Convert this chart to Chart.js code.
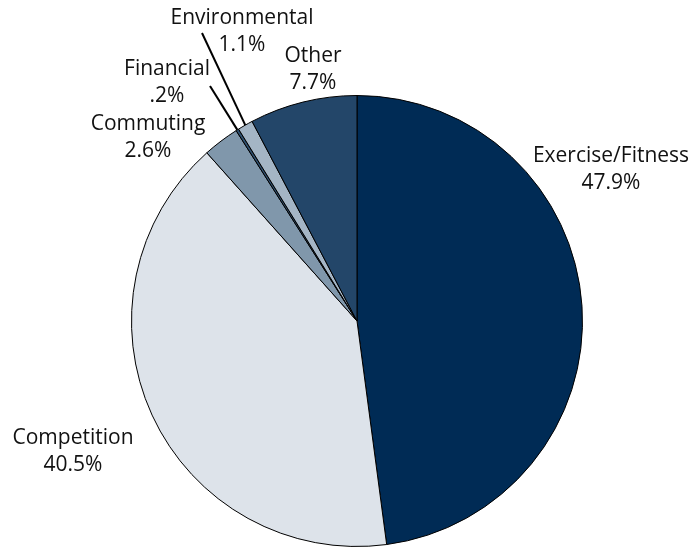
<!DOCTYPE html>
<html lang="en">
<head>
    <meta charset="UTF-8">
    <title>Reasons for participation</title>
    <style>
        body { margin: 0; padding: 0; background: #ffffff; }
        #wrap { width: 691px; height: 550px; }
    </style>
</head>
<body>
    <div id="wrap"><canvas id="myChart" width="691" height="550"></canvas></div>

    <script src="https://cdn.jsdelivr.net/npm/chart.js"></script>
    <script>
        // data
        const categories = ['Exercise/Fitness', 'Competition', 'Commuting', 'Financial', 'Environmental', 'Other'];
        const shares = [47.9, 40.5, 2.6, 0.2, 1.1, 7.7];
        const shareLabels = ['47.9%', '40.5%', '2.6%', '.2%', '1.1%', '7.7%'];
        const colors = ['#002b55', '#dde3ea', '#8097ab', '#2f5070', '#a4b5c5', '#234669'];

        // where each label sits (center of first line) and optional leader start
        const labelSpots = [
            { x: 611, y: 156 },
            { x: 73, y: 438 },
            { x: 148, y: 124 },
            { x: 167, y: 69, lead: [210, 86] },
            { x: 242, y: 18, lead: [202, 33] },
            { x: 313, y: 56 }
        ];

        const labelPlugin = {
            id: 'sliceLabels',
            afterDraw(chart) {
                const ctx = chart.ctx;
                const arcs = chart.getDatasetMeta(0).data;
                ctx.save();
                ctx.fillStyle = '#111';
                ctx.font = '21px "Open Sans", sans-serif';
                ctx.textAlign = 'center';
                ctx.textBaseline = 'middle';
                labelSpots.forEach((s, i) => {
                    ctx.fillText(categories[i], s.x, s.y);
                    ctx.fillText(shareLabels[i], s.x, s.y + 27);
                    if (s.lead) {
                        const a = arcs[i];
                        const mid = (a.startAngle + a.endAngle) / 2;
                        const ex = a.x + Math.cos(mid) * a.outerRadius;
                        const ey = a.y + Math.sin(mid) * a.outerRadius;
                        ctx.beginPath();
                        ctx.strokeStyle = '#000';
                        ctx.lineWidth = 2;
                        ctx.moveTo(s.lead[0], s.lead[1]);
                        ctx.lineTo(ex, ey);
                        ctx.stroke();
                    }
                });
                ctx.restore();
            }
        };

        const ctx = document.getElementById('myChart').getContext('2d');
        new Chart(ctx, {
            type: 'pie',
            data: {
                labels: categories,
                datasets: [{
                    data: shares,
                    backgroundColor: colors,
                    borderColor: '#000000',
                    borderWidth: 1
                }]
            },
            options: {
                responsive: false,
                animation: false,
                layout: {
                    padding: { top: 95, bottom: 3, left: 131, right: 108 }
                },
                plugins: {
                    legend: { display: false },
                    tooltip: { enabled: false }
                }
            },
            plugins: [labelPlugin]
        });
    </script>
</body>
</html>
